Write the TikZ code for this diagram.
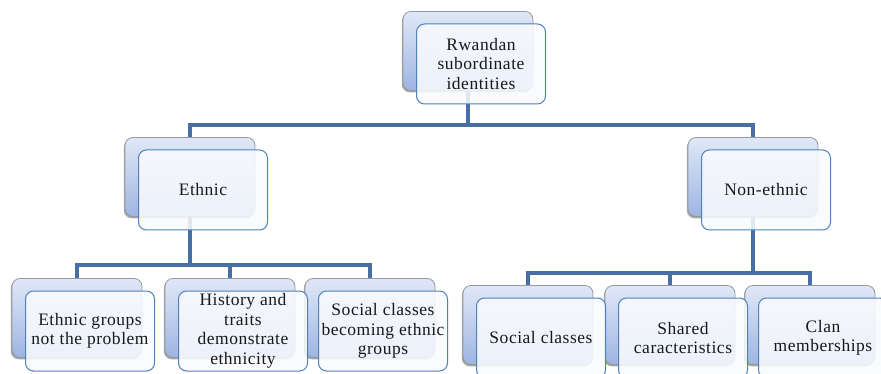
\documentclass[tikz,border=0pt]{standalone}
\usepackage{fontspec}
\setmainfont{Liberation Serif}[LetterSpace=3]
\usetikzlibrary{shadows}
\definecolor{connc}{RGB}{72,110,166}
\definecolor{frontc}{RGB}{79,129,189}
\definecolor{backtop}{RGB}{224,232,247}
\definecolor{backbot}{RGB}{158,181,225}
\definecolor{backline}{RGB}{150,152,158}
\definecolor{frontfill}{RGB}{250,251,254}
\tikzset{
  conn/.style={draw=connc, line width=3.8pt, line join=miter},
  backbox/.style={draw=backline, line width=0.8pt, rounded corners=8pt,
    top color=backtop, bottom color=backbot, minimum width=130pt, minimum height=79pt,
    inner sep=0pt, drop shadow={shadow xshift=-1.2pt, shadow yshift=-1.8pt, opacity=0.35, fill=black}},
  frontbox/.style={draw=frontc, line width=1pt, rounded corners=8pt,
    fill=frontfill, fill opacity=0.86, text opacity=1, minimum width=129pt, minimum height=80pt,
    inner sep=0pt, align=center, text=black!90, font=\fontsize{17.5}{19.5}\selectfont},
}
\begin{document}
\begin{tikzpicture}[x=1pt,y=-1pt]
\useasboundingbox (0,0) rectangle (881,374);
\clip (0,0) rectangle (881,374);
\fill[white] (0,0) rectangle (881,374);
% back boxes
\node[backbox] (rootb) at (468,51) {};
\node[backbox] (ethb) at (190,177) {};
\node[backbox] (nonb) at (753,177) {};
\node[backbox] (c1b) at (77,318) {};
\node[backbox] (c2b) at (230,318) {};
\node[backbox] (c3b) at (370,318) {};
\node[backbox] (d1b) at (528,325) {};
\node[backbox] (d2b) at (670,325) {};
\node[backbox] (d3b) at (810,325) {};
% connectors
\coordinate (bar1) at (468,125);
\coordinate (bar2) at (190,265);
\coordinate (bar3) at (753,273);
\draw[conn] (rootb.south) -- (bar1);
\draw[conn] (ethb.north) |- (bar1) -| (nonb.north);
\draw[conn] (ethb.south) -- (bar2);
\draw[conn] (c1b.north) |- (bar2) -| (c3b.north);
\draw[conn] (c2b.north) -- (c2b.north |- bar2);
\draw[conn] (nonb.south) -- (bar3);
\draw[conn] (d1b.north) |- (bar3) -| (d3b.north);
\draw[conn] (d2b.north) -- (d2b.north |- bar3);
% front boxes
\node[frontbox] (root) at (481,64) {Rwandan\\subordinate\\identities};
\node[frontbox] (eth) at (203,190) {Ethnic};
\node[frontbox] (non) at (766,190) {Non-ethnic};
\node[frontbox] (c1) at (90,331) {Ethnic groups\\not the problem};
\node[frontbox] (c2) at (243,331) {History and\\traits\\demonstrate\\ethnicity};
\node[frontbox] (c3) at (383,331) {Social classes\\becoming ethnic\\groups};
\node[frontbox] (d1) at (541,338) {Social classes};
\node[frontbox] (d2) at (683,338) {Shared\\caracteristics};
\node[frontbox] (d3) at (823,338) {Clan\\memberships};
\end{tikzpicture}
\end{document}
